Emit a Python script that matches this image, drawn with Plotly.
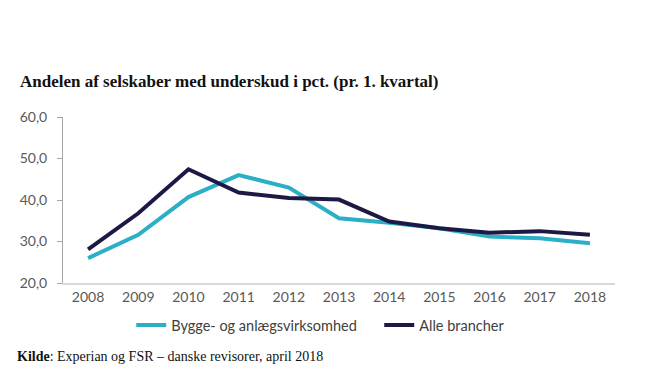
import plotly.graph_objects as go

years = ["2008", "2009", "2010", "2011", "2012", "2013", "2014", "2015", "2016", "2017", "2018"]
bygge = [26.0, 31.6, 40.7, 46.0, 43.0, 35.6, 34.5, 33.2, 31.2, 30.8, 29.6]
alle = [28.1, 36.8, 47.4, 41.8, 40.5, 40.1, 34.8, 33.2, 32.1, 32.5, 31.6]

fig = go.Figure()
fig.add_trace(go.Scatter(x=years, y=bygge, mode="lines", name="Bygge- og anlægsvirksomhed",
                         line=dict(color="#2BAFC7", width=4)))
fig.add_trace(go.Scatter(x=years, y=alle, mode="lines", name="Alle brancher",
                         line=dict(color="#1C1A45", width=4)))

fig.update_layout(
    width=651, height=380,
    margin=dict(l=49, r=44, t=109, b=105),
    paper_bgcolor="white", plot_bgcolor="white",
    separators=",.",
    font=dict(family="Lato", size=14, color="#595959"),
    showlegend=True,
    legend=dict(orientation="h", x=0.1236, y=-0.157, xanchor="left", yanchor="top",
                font=dict(family="Lato", size=14.5, color="#404040"),
                itemwidth=30, entrywidth=203, bgcolor="rgba(0,0,0,0)"),
    xaxis=dict(type="category", range=[-0.5, 10.5], showgrid=False, showline=True,
               linecolor="#D9D9D9", linewidth=2, ticks="",
               tickfont=dict(size=14, color="#595959")),
    yaxis=dict(range=[20, 60], dtick=10, tickformat=".1f", showgrid=False, zeroline=False,
               showline=True, linecolor="#A6A6A6", linewidth=1, ticks="outside", ticklen=5,
               tickcolor="#A6A6A6", ticklabelstandoff=7,
               tickfont=dict(size=14, color="#595959")),
    annotations=[
        dict(text="<b>Andelen af selskaber med underskud i pct. (pr. 1. kvartal)</b>",
             xref="paper", yref="paper", x=-0.0807, y=1.211, xanchor="left", yanchor="middle",
             showarrow=False, font=dict(family="Liberation Serif", size=17, color="#111111")),
        dict(text="<b>Kilde</b>: Experian og FSR – danske revisorer, april 2018",
             xref="paper", yref="paper", x=-0.0861, y=-0.44, xanchor="left", yanchor="middle",
             showarrow=False, font=dict(family="Liberation Serif", size=14, color="#111111")),
    ],
)

fig.write_html("out.html")
